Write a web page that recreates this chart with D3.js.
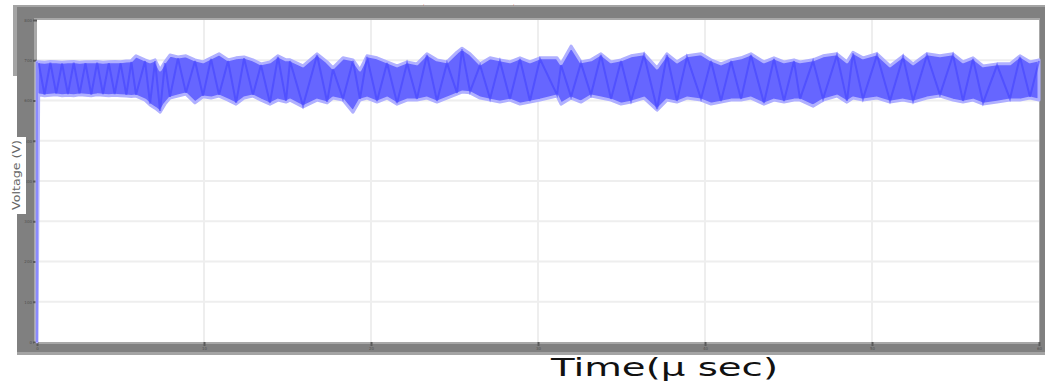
<!DOCTYPE html>
<html><head><meta charset="utf-8">
<script src="https://cdn.jsdelivr.net/npm/d3@7"></script>
<style>html,body{margin:0;padding:0;background:#fff;}svg{display:block;}</style>
</head><body>
<svg id="c" width="1045" height="381"></svg>
<script>
// ---- data ----
const timeTicks = [0, 10, 20, 30, 40, 50, 60];
const voltTicks = [0, 100, 200, 300, 400, 500, 600, 700, 800];
const time = [0,0.1,0.45,0.8,1.15,1.5,1.85,2.2,2.55,2.9,3.25,3.6,3.95,4.3,4.65,5.0,5.35,5.65,5.93,6.47,6.77,7.07,7.37,7.66,7.96,8.44,8.92,9.46,9.94,10.42,10.9,11.44,11.92,12.4,12.93,13.41,13.95,14.43,14.91,15.15,15.93,16.77,17.37,17.72,18.32,18.92,19.34,19.76,20.36,20.96,21.56,22.16,22.75,23.35,23.95,24.55,25.15,25.45,25.93,26.53,27.13,27.72,28.32,28.92,29.52,30.12,31.14,31.38,31.98,32.57,33.17,33.77,34.37,34.97,35.57,36.35,37.13,37.72,38.32,38.92,39.76,40.36,40.96,41.56,42.16,42.75,43.53,44.13,44.73,45.33,45.69,46.47,47.07,47.9,48.5,48.86,49.46,50.3,51.08,51.86,52.46,53.29,54.07,54.85,55.45,56.05,56.65,57.49,58.26,58.86,59.46,60];
const upper = [696,696,695,697,696,695,696,697,695,696,696,697,695,696,697,696,698,699,711,701,696,701,676,696,713,708,711,701,696,706,716,701,706,708,701,691,696,711,701,701,686,716,696,681,706,701,676,711,706,696,686,696,691,716,701,696,720,730,716,691,706,701,696,706,696,706,706,691,735,696,701,716,696,701,711,716,681,716,696,711,716,701,691,701,706,716,696,706,696,701,696,701,711,716,696,720,706,716,686,711,691,716,711,716,696,706,686,691,691,711,696,701];
const lower = [0,614,612,613,614,612,613,612,614,613,612,614,613,612,613,612,611,610,611,601,589,581,571,591,606,611,616,594,609,606,611,601,591,606,611,601,591,601,596,601,584,601,594,606,601,571,601,606,596,606,591,601,601,606,596,606,616,621,619,606,601,596,601,591,596,601,611,591,606,596,611,606,601,591,596,606,576,601,596,606,601,591,596,601,601,606,591,601,596,601,601,586,601,611,596,606,601,606,596,601,596,606,611,601,596,601,591,596,601,601,606,601];

// ---- layout ----
const svg = d3.select("#c");
const x = d3.scaleLinear().domain([0, 60]).range([37, 1039]);
const y = d3.scaleLinear().domain([0, 800]).range([342, 20]);

// scope frame
svg.append("rect").attr("x", 13).attr("y", 5).attr("width", 1032).attr("height", 350).attr("fill", "#a4a4a4");
svg.append("rect").attr("x", 17).attr("y", 7).attr("width", 1028).attr("height", 345).attr("fill", "#808080");
svg.append("rect").attr("x", 0).attr("y", 76).attr("width", 17).attr("height", 290).attr("fill", "#fff");
svg.append("rect").attr("x", 34).attr("y", 18).attr("width", 1006).attr("height", 326).attr("fill", "#a8a8a8");
svg.append("rect").attr("x", 37).attr("y", 20).attr("width", 1002).attr("height", 322).attr("fill", "#fff");

// grid
const g = svg.append("g");
g.selectAll("line.v").data(timeTicks.slice(1, -1)).join("line")
  .attr("x1", d => x(d)).attr("x2", d => x(d)).attr("y1", 20).attr("y2", 342)
  .attr("stroke", "#eeeeee").attr("stroke-width", 2);
g.selectAll("line.h").data(voltTicks.slice(1, -1)).join("line")
  .attr("x1", 37).attr("x2", 1039).attr("y1", d => y(d)).attr("y2", d => y(d))
  .attr("stroke", "#eeeeee").attr("stroke-width", 2);

// axes (tiny scope tick labels)
const ax = svg.append("g").attr("transform", "translate(37,0)")
  .call(d3.axisLeft(y).tickValues(voltTicks).tickSize(4).tickPadding(1));
ax.select(".domain").remove();
ax.selectAll("line").attr("stroke", "#5a5a5a").attr("stroke-width", 2);
ax.selectAll("text").attr("font-size", 4).attr("fill", "#505050").attr("font-family", "DejaVu Sans");
const bx = svg.append("g").attr("transform", "translate(0,342)")
  .call(d3.axisBottom(x).tickValues(timeTicks).tickSize(4).tickPadding(1));
bx.select(".domain").remove();
bx.selectAll("line").attr("stroke", "#5a5a5a").attr("stroke-width", 2);
bx.selectAll("text").attr("font-size", 4).attr("fill", "#505050").attr("font-family", "DejaVu Sans");

// signal
const pts = time.map((t, i) => ({t, u: upper[i], l: lower[i]}));
const area = d3.area().x(d => x(d.t)).y0(d => y(d.l)).y1(d => y(d.u));
svg.append("path").datum(pts).attr("d", area)
  .attr("fill", "#6666ff").attr("stroke", "#b0b0ff").attr("stroke-width", 3).attr("stroke-linejoin", "round");
const zig = d3.line().x(d => x(d[0])).y(d => y(d[1]));
const zigA = pts.slice(1).map((d, i) => [d.t, i % 2 ? d.l + 3 : d.u - 3]);
svg.append("path").datum(zigA).attr("d", zig)
  .attr("fill", "none").attr("stroke", "#4040ff").attr("stroke-width", 2).attr("opacity", 0.55);
// start-up rise
svg.append("line").attr("x1", x(0)).attr("x2", x(0)).attr("y1", y(0)).attr("y2", y(upper[0]))
  .attr("stroke", "#8a8aff").attr("stroke-width", 2);

// labels
svg.append("rect").attr("x", 3).attr("y", 137).attr("width", 23).attr("height", 77).attr("fill", "#fff");
svg.append("text").attr("transform", "translate(20,175) rotate(-90)")
  .attr("text-anchor", "middle").attr("font-family", "DejaVu Sans").attr("font-size", 11)
  .attr("fill", "#666").attr("textLength", 70).attr("lengthAdjust", "spacingAndGlyphs").text("Voltage (V)");

svg.append("text").attr("x", 551).attr("y", 376)
  .attr("font-family", "DejaVu Sans").attr("font-size", 25).attr("fill", "#111")
  .attr("textLength", 227).attr("lengthAdjust", "spacingAndGlyphs").text("Time(µ sec)");

svg.append("text").attr("x", 423).attr("y", 5).attr("font-family", "DejaVu Sans").attr("font-size", 5)
  .attr("fill", "#e02020").text(",");
svg.append("text").attr("x", 513).attr("y", 5).attr("font-family", "DejaVu Sans").attr("font-size", 5)
  .attr("fill", "#e02020").text(",");
</script>
</body></html>
